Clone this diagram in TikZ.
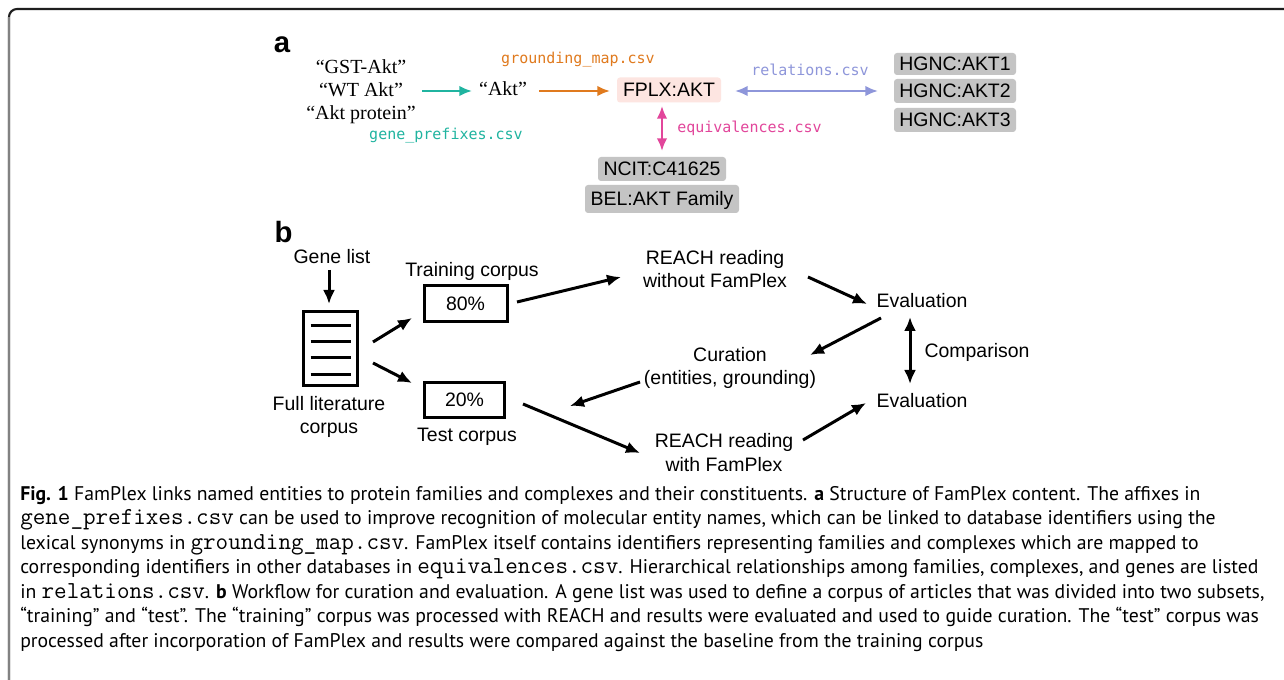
\documentclass[tikz,border=0pt]{standalone}
\usepackage{fontspec}
\setmainfont{PT Sans}
\newfontfamily\arialf{Liberation Sans}
\newfontfamily\serf{Liberation Serif}
\newfontfamily\dmono{DejaVu Sans Mono}
\usetikzlibrary{arrows.meta,calc}
\definecolor{tealc}{RGB}{32,180,160}
\definecolor{orangec}{RGB}{224,122,30}
\definecolor{peric}{RGB}{142,150,218}
\definecolor{pinkc}{RGB}{226,70,155}
\definecolor{boxgray}{RGB}{196,196,196}
\definecolor{fplxfill}{RGB}{253,229,225}
\definecolor{framedark}{RGB}{30,30,30}
\definecolor{framegray}{RGB}{130,130,130}
\newcommand{\cc}[1]{{\ttfamily\fontsize{18.3}{20}\selectfont #1}}
\begin{document}
\begin{tikzpicture}[x=0.75pt,y=-0.75pt,
  lab/.style={font=\arialf\fontsize{14.6}{17.8}\selectfont, align=center, inner sep=0pt, anchor=base},
  panel/.style={font=\arialf\bfseries\fontsize{22}{24}\selectfont, inner sep=0pt, anchor=base},
  qt/.style={font=\serf\fontsize{15}{17.6}\selectfont, align=center, inner sep=0pt, anchor=base},
  csv/.style={font=\dmono\fontsize{11.25}{13}\selectfont, inner sep=0pt, anchor=base},
  idbox/.style={font=\arialf\fontsize{14.6}{18}\selectfont, fill=boxgray, rounded corners=2.25pt,
     inner xsep=0pt, inner ysep=0pt, text height=10.4pt, text depth=0pt},
  pctbox/.style={font=\arialf\fontsize{14.6}{18}\selectfont, draw, line width=2.25pt,
     inner sep=0pt, text height=10.4pt, text depth=0pt},
  arr/.style={line width=2.25pt, -{Latex[length=10.5pt,width=9pt]}},
  darr/.style={line width=2.25pt, {Latex[length=10.5pt,width=9pt]}-{Latex[length=10.5pt,width=9pt]}},
  carr/.style={line width=1.9pt, -{Latex[length=9.5pt,width=8pt]}},
  dcarr/.style={line width=1.9pt, {Latex[length=9.5pt,width=8pt]}-{Latex[length=9.5pt,width=8pt]}},
  capline/.style={font=\fontsize{14.8}{17}\selectfont, inner sep=0pt, anchor=base west},
  docline/.style={line width=2.25pt}
]
\useasboundingbox (0,0) rectangle (1284,680);
\fill[white] (0,0) rectangle (1284,680);
% frame
\draw[framedark, line width=1.6pt, rounded corners=6pt] (9,680) -- (9,9) -- (1284,9);
\draw[framegray, line width=1.6pt] (9,680) -- (9,17);

% ---------- panel a ----------
\node[panel] (pa) at (282,53) {a};
\node[qt] (quotes) at (361,120) {“GST-Akt”\\“WT Akt”\\“Akt protein”};
\node[qt] (akt) at (503,96) {“Akt”};
\node[idbox, fill=fplxfill, minimum width=78pt, minimum height=18.75pt] (fplx) at (669,90) {FPLX:AKT};
\node[idbox, minimum width=91.5pt, minimum height=16.5pt] (h1) at (955,64) {HGNC:AKT1};
\node[idbox, minimum width=91.5pt, minimum height=18pt] (h2) at (955,91) {HGNC:AKT2};
\node[idbox, minimum width=91.5pt, minimum height=18pt] (h3) at (955,120) {HGNC:AKT3};
\node[idbox, minimum width=96pt, minimum height=18pt] (ncit) at (662,169) {NCIT:C41625};
\node[idbox, minimum width=115.5pt, minimum height=21pt] (bel) at (662,199) {BEL:AKT Family};

\node[csv, text=tealc] (lgp) at (446,140) {gene\_prefixes.csv};
\node[csv, text=orangec] (lgm) at (578,64) {grounding\_map.csv};
\node[csv, text=peric] (lrel) at (810,76) {relations.csv};
\node[csv, text=pinkc, anchor=base west] (leq) at (677,133) {equivalences.csv};

\draw[carr, tealc] ([shift={(61,-29)}]quotes.base) -- ([shift={(-31,-5)}]akt.base);
\draw[carr, orangec] ([shift={(36,-5)}]akt.base) -- ([shift={(-59,1)}]fplx.center);
\draw[dcarr, peric] ([shift={(66,1)}]fplx.center) -- ([shift={(-77,0)}]h2.center);
\draw[dcarr, pinkc] ([shift={(-7,16)}]fplx.center) -- ([shift={(0,-18)}]ncit.center);

% ---------- panel b ----------
\node[panel] (pb) at (283.5,243) {b};
\node[lab] (gene) at (332,264) {Gene list};
\node[draw, line width=2.25pt, minimum width=40.5pt, minimum height=55.5pt, inner sep=0pt] (doc) at (330.5,348.5) {};
\foreach \dy in {-23,-6.5,9.5,26}{
  \draw[docline] ([shift={(-20,\dy)}]doc.center) -- ([shift={(20,\dy)}]doc.center);
}
\node[lab] (full) at (329,434) {Full literature\\corpus};
\node[lab] (train) at (472,277) {Training corpus};
\node[pctbox, minimum width=62.25pt, minimum height=27pt] (n80) at (465.5,304) {80\%};
\node[pctbox, minimum width=60pt, minimum height=26.25pt] (n20) at (464.5,400) {20\%};
\node[lab] (test) at (467,441) {Test corpus};
\node[lab] (reach1) at (715,288) {REACH reading\\without FamPlex};
\node[lab] (eval1) at (922,308) {Evaluation};
\node[lab] (cur) at (730,385) {Curation\\(entities, grounding)};
\node[lab] (comp) at (977,358) {Comparison};
\node[lab] (eval2) at (922,407) {Evaluation};
\node[lab] (reach2) at (724,471) {REACH reading\\with FamPlex};

\draw[arr] ([shift={(-3,6)}]gene.base) -- ([shift={(-1.5,-6)}]doc.north);
\draw[arr] ([shift={(42.5,-6.5)}]doc.center) -- ([shift={(-53.5,14)}]n80.center);
\draw[arr] ([shift={(42.5,14.5)}]doc.center) -- ([shift={(-52.5,-17)}]n20.center);
\draw[arr] ([shift={(51.5,-2)}]n80.center) -- ([shift={(-94,-11)}]reach1.base);
\draw[arr] ([shift={(93,-11)}]reach1.base) -- ([shift={(-55,-4)}]eval1.base);
\draw[arr] ([shift={(-41,10)}]eval1.base) -- ([shift={(80,-30)}]cur.base);
\draw[arr] ([shift={(-90,-3)}]cur.base) -- ([shift={(105.5,6)}]n20.center);
\draw[arr] ([shift={(58.5,4)}]n20.center) -- ([shift={(-84,-18)}]reach2.base);
\draw[arr] ([shift={(79,-31)}]reach2.base) -- ([shift={(-56,-4)}]eval2.base);
\draw[darr] ([shift={(-12,9)}]eval1.base) -- ([shift={(-12,-23)}]eval2.base);

% ---------- caption ----------
\node[capline] (c1) at (20,500) {\textbf{Fig. 1} FamPlex links named entities to protein families and complexes and their constituents. \textbf{a} Structure of FamPlex content. The affixes in};
\node[capline] (c2) at (20,524.5) {\cc{gene\_prefixes.csv} can be used to improve recognition of molecular entity names, which can be linked to database identifiers using the};
\node[capline] (c3) at (20,549) {lexical synonyms in \cc{grounding\_map.csv}. FamPlex itself contains identifiers representing families and complexes which are mapped to};
\node[capline] (c4) at (20,573.5) {corresponding identifiers in other databases in \cc{equivalences.csv}. Hierarchical relationships among families, complexes, and genes are listed};
\node[capline] (c5) at (20,598) {in \cc{relations.csv}. \textbf{b} Workflow for curation and evaluation. A gene list was used to define a corpus of articles that was divided into two subsets,};
\node[capline] (c6) at (20,622.5) {“training” and “test”. The “training” corpus was processed with REACH and results were evaluated and used to guide curation. The “test” corpus was};
\node[capline] (c7) at (20,647) {processed after incorporation of FamPlex and results were compared against the baseline from the training corpus};
\end{tikzpicture}
\end{document}
